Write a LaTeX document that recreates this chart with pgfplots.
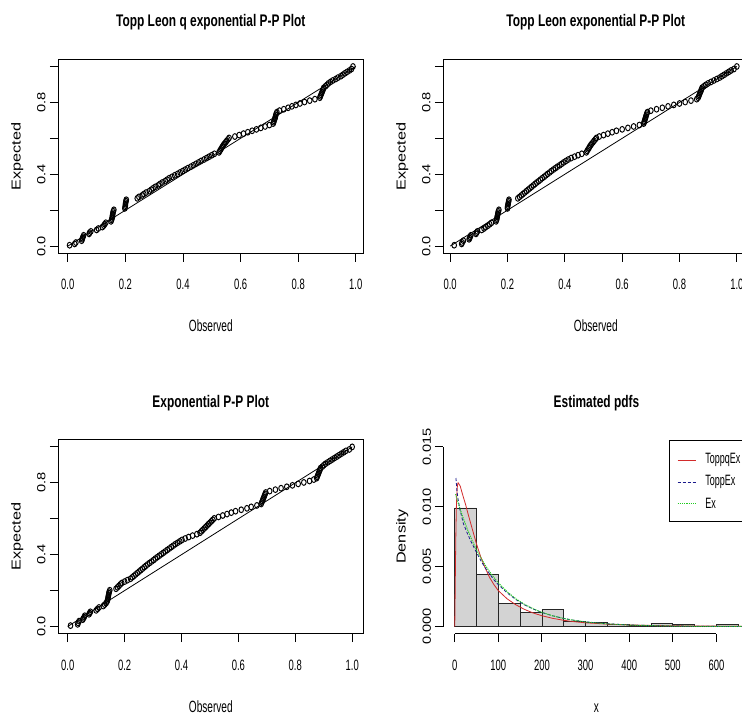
\documentclass[border=0pt]{standalone}
\usepackage{fontspec}
\setmainfont{Liberation Sans}
\usepackage{graphicx}
\usepackage{pgfplots}
\pgfplotsset{compat=1.18}
\usepackage{pgfplotstable}

% text shapes of the R device: horizontal text condensed, rotated text stretched
\newcommand\htitle[1]{\scalebox{0.71}[1]{\fontsize{16.8}{18}\selectfont\bfseries #1}}
\newcommand\htick[1]{\scalebox{0.63}[1]{\fontsize{15}{16}\selectfont #1}}
\newcommand\hlab[1]{\scalebox{0.62}[1]{\fontsize{16.3}{17}\selectfont #1}}
\newcommand\hleg[1]{\scalebox{0.6}[1]{\fontsize{15}{16}\selectfont #1}}
\newcommand\vtick[1]{\scalebox{1.24}[1]{\fontsize{11.8}{13}\selectfont #1}}
\newcommand\vlab[1]{\scalebox{1.25}[1]{\fontsize{13}{14}\selectfont #1}}

\definecolor{histgray}{HTML}{D3D3D3}
\definecolor{rcurve}{HTML}{D22B2B}
\definecolor{bcurve}{HTML}{1A1A8C}
\definecolor{gcurve}{HTML}{22CC22}

\tikzset{
  gdot/.style={draw=gcurve, line width=1pt, dash pattern=on 1.2pt off 1pt},
  bdash/.style={draw=bcurve, line width=0.8pt, dash pattern=on 3pt off 2pt},
  rline/.style={draw=rcurve, line width=0.8pt},
}

% P-P points: expected (y) and observed for the three models
\pgfplotstableread{
y x1 x2 x3
0.005 0.006 0.014 0.010
0.012 0.024 0.040 0.035
0.020 0.028 0.042 0.037
0.030 0.048 0.046 0.040
0.038 0.050 0.066 0.053
0.045 0.051 0.068 0.055
0.052 0.053 0.070 0.058
0.060 0.055 0.072 0.060
0.068 0.074 0.090 0.075
0.075 0.076 0.092 0.077
0.082 0.080 0.095 0.080
0.090 0.100 0.110 0.100
0.098 0.106 0.118 0.105
0.106 0.120 0.124 0.110
0.114 0.125 0.132 0.125
0.122 0.128 0.138 0.130
0.130 0.132 0.144 0.135
0.138 0.150 0.160 0.138
0.146 0.152 0.162 0.140
0.154 0.153 0.163 0.141
0.162 0.155 0.164 0.142
0.170 0.155 0.165 0.143
0.178 0.156 0.166 0.144
0.186 0.157 0.167 0.145
0.194 0.158 0.168 0.146
0.202 0.160 0.170 0.148
0.210 0.198 0.200 0.170
0.218 0.199 0.200 0.175
0.226 0.200 0.201 0.180
0.234 0.200 0.202 0.185
0.242 0.201 0.203 0.190
0.250 0.202 0.204 0.200
0.258 0.203 0.205 0.210
0.266 0.241 0.236 0.221
0.274 0.247 0.242 0.227
0.282 0.258 0.248 0.233
0.290 0.264 0.254 0.239
0.298 0.272 0.260 0.245
0.306 0.283 0.266 0.251
0.314 0.290 0.272 0.257
0.322 0.296 0.278 0.263
0.330 0.304 0.284 0.269
0.338 0.314 0.290 0.275
0.346 0.320 0.296 0.281
0.354 0.328 0.302 0.288
0.362 0.338 0.309 0.295
0.370 0.345 0.315 0.302
0.378 0.352 0.321 0.308
0.386 0.362 0.328 0.315
0.394 0.371 0.334 0.322
0.402 0.381 0.340 0.329
0.410 0.390 0.347 0.336
0.418 0.399 0.353 0.343
0.426 0.408 0.360 0.350
0.434 0.417 0.367 0.357
0.442 0.427 0.374 0.364
0.450 0.436 0.382 0.371
0.458 0.445 0.389 0.378
0.466 0.454 0.396 0.386
0.474 0.463 0.404 0.394
0.482 0.473 0.412 0.402
0.490 0.482 0.422 0.413
0.498 0.491 0.434 0.425
0.506 0.500 0.446 0.439
0.514 0.509 0.459 0.454
0.522 0.525 0.475 0.465
0.530 0.528 0.478 0.470
0.538 0.531 0.481 0.475
0.546 0.534 0.484 0.480
0.554 0.537 0.487 0.485
0.562 0.540 0.490 0.490
0.570 0.544 0.494 0.495
0.578 0.548 0.498 0.500
0.586 0.552 0.502 0.505
0.594 0.556 0.506 0.510
0.602 0.560 0.510 0.515
0.610 0.580 0.520 0.530
0.618 0.595 0.535 0.545
0.626 0.610 0.550 0.560
0.634 0.625 0.565 0.575
0.642 0.640 0.580 0.590
0.650 0.655 0.600 0.610
0.658 0.670 0.620 0.630
0.666 0.685 0.640 0.645
0.674 0.700 0.660 0.665
0.682 0.713 0.675 0.680
0.690 0.715 0.677 0.682
0.698 0.716 0.678 0.684
0.706 0.718 0.680 0.686
0.714 0.720 0.681 0.688
0.722 0.721 0.683 0.690
0.730 0.722 0.684 0.692
0.738 0.724 0.686 0.694
0.746 0.726 0.688 0.696
0.754 0.735 0.700 0.710
0.762 0.750 0.720 0.730
0.770 0.765 0.740 0.750
0.778 0.778 0.760 0.770
0.786 0.792 0.780 0.790
0.794 0.806 0.800 0.810
0.802 0.822 0.820 0.830
0.810 0.840 0.840 0.850
0.818 0.858 0.860 0.865
0.826 0.875 0.865 0.875
0.834 0.877 0.867 0.877
0.842 0.879 0.869 0.879
0.850 0.881 0.871 0.881
0.858 0.883 0.873 0.883
0.866 0.885 0.875 0.885
0.874 0.887 0.877 0.887
0.882 0.889 0.879 0.889
0.890 0.895 0.885 0.895
0.898 0.900 0.892 0.900
0.906 0.905 0.900 0.906
0.914 0.912 0.910 0.914
0.922 0.920 0.920 0.922
0.930 0.930 0.930 0.930
0.938 0.938 0.940 0.938
0.946 0.948 0.948 0.946
0.954 0.955 0.956 0.954
0.962 0.962 0.964 0.962
0.970 0.970 0.972 0.970
0.978 0.978 0.980 0.978
0.986 0.985 0.990 0.990
1.000 0.990 1.000 1.000
}\pptable

\pgfplotsset{
  rbase/.style={
    scale only axis, clip=false, anchor=south west,
    width=305pt, height=194pt,
    axis line style={line width=0.9pt},
    tick style={line width=0.9pt, black},
    tick align=outside, major tick length=8.5pt,
    xtick pos=lower, ytick pos=left,
    xticklabels={}, yticklabels={},
  },
  pp/.style={rbase,
    ymin=-0.04, ymax=1.04,
    xtick={0,0.2,0.4,0.6,0.8,1}, ytick={0,0.2,0.4,0.6,0.8,1},
  },
  ppmark/.style={only marks, mark=o, mark size=2.9pt,
    mark options={line width=0.95pt, xscale=0.8}},
}

% title, axis labels and tick labels of a P-P panel; #2 = xmin
\newcommand\ppdecor[2]{%
  \node[anchor=base] at ([yshift=32.6pt]rel axis cs:0.5,1) {\htitle{#1}};
  \node[anchor=base] at ([yshift=-78.4pt]rel axis cs:0.5,0) {\hlab{Observed}};
  \node[rotate=90] at ([xshift=-41pt]rel axis cs:0,0.5) {\vlab{Expected}};
  \pgfplotsinvokeforeach{0.0,0.2,0.4,0.6,0.8,1.0}{%
    \node[anchor=base] at ([yshift=-36.7pt]axis cs:##1,-0.04) {\htick{##1}};}
  \pgfplotsinvokeforeach{0.0,0.4,0.8}{%
    \node[rotate=90] at ([xshift=-17pt]axis cs:#2,##1) {\vtick{##1}};}
}

\begin{document}
\begin{tikzpicture}
\useasboundingbox (0,0) rectangle (742pt,715pt);
\clip (0,0) rectangle (742pt,715pt);

% top left
\begin{axis}[pp, at={(58.3pt,461.7pt)}, xmin=-0.033, xmax=1.026]
\addplot[ppmark] table[x=x1, y=y] {\pptable};
\addplot[black, line width=0.8pt] coordinates {(0,0) (1,1)};
\ppdecor{Topp Leon q exponential P-P Plot}{-0.033}
\end{axis}

% top right
\begin{axis}[pp, at={(443.3pt,461.7pt)}, xmin=-0.024, xmax=1.040]
\addplot[ppmark] table[x=x2, y=y] {\pptable};
\addplot[black, line width=0.8pt] coordinates {(0,0) (1,1)};
\ppdecor{Topp Leon exponential P-P Plot}{-0.024}
\end{axis}

% bottom left
\begin{axis}[pp, at={(58.3pt,81.3pt)}, xmin=-0.033, xmax=1.039]
\addplot[ppmark] table[x=x3, y=y] {\pptable};
\addplot[black, line width=0.8pt] coordinates {(0,0) (1,1)};
\ppdecor{Exponential P-P Plot}{-0.033}
\end{axis}

% bottom right: histogram and fitted densities
\begin{axis}[rbase, at={(443.3pt,81.3pt)}, width=306.3pt,
  xmin=-26, xmax=676, ymin=-0.0006, ymax=0.0156,
  axis line style={draw=none},
  xtick={0,100,200,300,400,500,600},
  ytick={0,0.005,0.010,0.015},
  scaled y ticks=false,
]
\addplot[ybar, bar width=50, bar shift=0pt, fill=histgray, draw=black!85,
  line width=0.8pt] coordinates {
  (25,0.00990) (75,0.00432) (125,0.00192) (175,0.00117) (225,0.00140)
  (275,0.00044) (325,0.00036) (375,0.00017) (425,0.00008) (475,0.00028)
  (525,0.00020) (575,0.00004) (625,0.00020)
};
\addplot[rline] coordinates {
  (0.3,0) (1,0.0022) (2,0.0055) (3,0.0082) (4,0.0100) (5,0.0110)
  (6,0.0116) (7,0.0119) (8,0.0120) (10,0.0119) (13,0.0117) (16,0.0113)
  (20,0.0108) (25,0.0102) (30,0.0095) (40,0.0082) (50,0.0069) (60,0.0058)
  (70,0.0049) (80,0.0041) (90,0.0035) (100,0.0030) (120,0.00232)
  (140,0.00182) (160,0.00143) (180,0.00113) (200,0.00090) (225,0.00068)
  (250,0.00052) (275,0.00040) (300,0.00031) (350,0.00020) (400,0.00013)
  (450,0.00009) (500,0.00006) (550,0.00004) (600,0.00003) (680,0.00002)
};
\addplot[bdash] coordinates {
  (3,0.0124) (5,0.0114) (8,0.0106) (12,0.0098) (20,0.0086) (30,0.0077)
  (40,0.0069) (50,0.0062) (60,0.0055) (70,0.0049) (80,0.0044) (90,0.0039)
  (100,0.0035) (120,0.00282) (140,0.00226) (160,0.00181) (180,0.00146)
  (200,0.00117) (225,0.00089) (250,0.00067) (275,0.00051) (300,0.00039)
  (350,0.00023) (400,0.00013) (450,0.00008) (500,0.00004) (550,0.00002)
  (600,0.00001) (680,0.000004)
};
\addplot[gdot] coordinates {
  (2,0.01105) (5,0.01068) (10,0.01009) (15,0.00954) (20,0.00901)
  (30,0.00805) (40,0.00719) (50,0.00642) (60,0.00574) (70,0.00512)
  (80,0.00458) (90,0.00409) (100,0.00365) (120,0.00291) (140,0.00232)
  (160,0.00185) (180,0.00148) (200,0.00118) (225,0.00089) (250,0.00067)
  (275,0.00051) (300,0.00038) (350,0.00022) (400,0.00012) (450,0.00007)
  (500,0.00004) (550,0.00002) (600,0.00001) (680,0.000005)
};
% axis lines span first to last tick, as in R
\draw[line width=0.9pt] (axis cs:0,-0.0006) -- (axis cs:600,-0.0006);
\draw[line width=0.9pt] (axis cs:-26,0) -- (axis cs:-26,0.015);
% legend box (runs off the right edge like the original)
\draw[line width=0.9pt, fill=white] (rel axis cs:0.738,0.998) rectangle (rel axis cs:1.05,0.581);
\draw[rline] (rel axis cs:0.765,0.894) -- (rel axis cs:0.825,0.894);
\draw[bdash] (rel axis cs:0.765,0.782) -- (rel axis cs:0.825,0.782);
\draw[gdot] (rel axis cs:0.765,0.673) -- (rel axis cs:0.825,0.673);
\node[anchor=west, inner sep=0pt] at (rel axis cs:0.855,0.894) {\hleg{ToppqEx}};
\node[anchor=west, inner sep=0pt] at (rel axis cs:0.855,0.782) {\hleg{ToppEx}};
\node[anchor=west, inner sep=0pt] at (rel axis cs:0.855,0.673) {\hleg{Ex}};
\node[anchor=base] at ([yshift=32.6pt]rel axis cs:0.5,1) {\htitle{Estimated pdfs}};
\node[anchor=base] at ([yshift=-78.4pt]rel axis cs:0.5,0) {\hlab{x}};
\node[rotate=90] at ([xshift=-41pt]rel axis cs:0,0.5) {\vlab{Density}};
\pgfplotsinvokeforeach{0,100,200,300,400,500,600}{%
  \node[anchor=base] at ([yshift=-36.7pt]axis cs:#1,-0.0006) {\htick{#1}};}
\pgfplotsinvokeforeach{0.000,0.005,0.010,0.015}{%
  \node[rotate=90] at ([xshift=-16.5pt]axis cs:-26,#1) {\vtick{#1}};}
\end{axis}
\end{tikzpicture}
\end{document}
